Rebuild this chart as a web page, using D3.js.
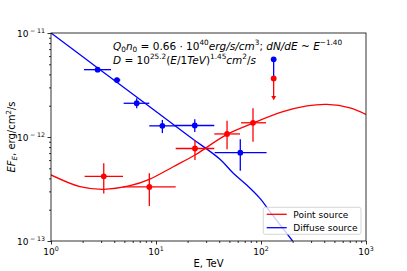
<!DOCTYPE html>
<html>
<head>
<meta charset="utf-8">
<script src="https://cdn.jsdelivr.net/npm/d3@7"></script>
<style>
    html, body { margin: 0; padding: 0; background: #fff; }
    svg { display: block; font-family: "DejaVu Sans", sans-serif; }
</style>
</head>
<body>
<div id="chart-sed"></div>
<script>
// point source points (red)
var redE    = [3.18, 8.64, 23.5, 47.5, 83.9];
var redF    = [4.19e-13, 3.31e-13, 7.75e-13, 1.07e-12, 1.37e-12];
var redELo  = [2.09, 4.82, 15.4, 35.9, 64.5];
var redEHi  = [4.85, 15.4, 35.9, 63.1, 111.6];
var redFLo  = [2.87e-13, 2.17e-13, 6.01e-13, 7.62e-13, 9.0e-13];
var redFHi  = [5.58e-13, 4.48e-13, 9.35e-13, 1.43e-12, 1.89e-12];

// red upper limit (arrow down)
var limE    = [132];
var limF    = [3.66e-12];
var limTo   = [2.30e-12];

// diffuse source points (blue)
var blueE   = [2.78, 4.25, 6.55, 11.5, 23.4, 63.5, 132];
var blueF   = [4.44e-12, 3.53e-12, 2.11e-12, 1.28e-12, 1.29e-12, 7.06e-13, 5.58e-12];
var blueELo = [2.06, 3.95, 4.92, 8.63, 15.2, 36.2, 132];
var blueEHi = [3.73, 4.57, 8.63, 15.3, 35.9, 113, 132];
var blueFLo = [4.44e-12, 3.30e-12, 1.89e-12, 1.09e-12, 1.12e-12, 4.74e-13, 3.66e-12];
var blueFHi = [4.44e-12, 3.71e-12, 2.36e-12, 1.46e-12, 1.48e-12, 9.5e-13, 5.58e-12];

// model curves
var pointCurveE = [1, 1.89, 3.15, 5.65, 8.63, 14.6, 23.5, 47.4, 84.0, 162, 274, 425, 704, 1000];
var pointCurveF = [4.32e-13, 3.33e-13, 3.14e-13, 3.40e-13, 3.92e-13, 5.18e-13, 6.71e-13,
                   1.06e-12, 1.36e-12, 1.75e-12, 1.99e-12, 2.06e-12, 1.91e-12, 1.65e-12];
var diffCurveE  = [1, 2.93, 8.77, 21.1, 40.7, 54.5, 73.1, 97.7, 122, 152, 200];
var diffCurveF  = [1e-11, 4.44e-12, 1.94e-12, 1.0e-12, 6.11e-13, 4.48e-13, 3.45e-13,
                   2.57e-13, 1.91e-13, 1.43e-13, 1.0e-13];

// ticks
var xTicks    = [1, 10, 100, 1000];
var xTickExp  = ["0", "1", "2", "3"];
var yTicks    = [1e-13, 1e-12, 1e-11];
var yTickExp  = ["\u221213", "\u221212", "\u221211"];

var legendLabels = ["Point source", "Diffuse source"];

(function () {

    var W = 407, H = 271;
    var margin = { top: 33, right: 41, bottom: 30, left: 51 };
    var iW = W - margin.left - margin.right;
    var iH = H - margin.top - margin.bottom;
    var FS = 9, SUP = 6.3;     // ticks / legend
    var LFS = 10;              // axis labels
    var AFS = 10.5, ASUP = 7.3; // annotation
    var RED = "#ff0000", BLUE = "#0000ff";

    var root = d3.select("#chart-sed").append("svg")
        .attr("width", W).attr("height", H);
    root.append("rect").attr("width", W).attr("height", H).attr("fill", "#fff");

    var svg = root.append("g")
        .attr("transform", "translate(" + margin.left + "," + margin.top + ")");

    svg.append("defs").append("clipPath")
        .attr("id", "clip-sed")
        .append("rect").attr("width", iW).attr("height", iH);

    var x = d3.scaleLog().domain([1, 1000]).range([0, iW]);
    var y = d3.scaleLog().domain([1e-13, 1e-11]).range([iH, 0]);

    // minor ticks (2..9 per decade)
    var xMinor = [], yMinor = [];
    [1, 10, 100].forEach(function (b) {
        for (var k = 2; k < 10; k++) xMinor.push(b * k);
    });
    [1e-13, 1e-12].forEach(function (b) {
        for (var k = 2; k < 10; k++) yMinor.push(b * k);
    });

    var gx = svg.append("g").attr("class", "axis axis-x")
        .attr("transform", "translate(0," + iH + ")");
    gx.call(d3.axisBottom(x).tickValues(xMinor).tickSize(2).tickSizeOuter(0).tickFormat(""));
    gx.append("g").call(d3.axisBottom(x).tickValues(xTicks).tickSize(3.5).tickSizeOuter(0).tickFormat(""));

    var gy = svg.append("g").attr("class", "axis axis-y");
    gy.call(d3.axisLeft(y).tickValues(yMinor).tickSize(2).tickSizeOuter(0).tickFormat(""));
    gy.append("g").call(d3.axisLeft(y).tickValues(yTicks).tickSize(3.5).tickSizeOuter(0).tickFormat(""));

    svg.selectAll(".axis path.domain").remove();
    svg.selectAll(".axis line").attr("stroke", "#000").attr("stroke-width", 0.8);

    // power-of-ten labels, "10" plus a raised exponent
    // (mathtext puts binop space round the minus, so pad it a bit)
    function pow10(sel, exp) {
        sel.append("tspan").text("10");
        if (exp.charAt(0) === "\u2212") {
            sel.append("tspan").attr("font-size", SUP).attr("dy", -4).attr("dx", 1.5).text("\u2212");
            sel.append("tspan").attr("font-size", SUP).attr("dx", 1.8).text(exp.slice(1));
        } else {
            sel.append("tspan").attr("font-size", SUP).attr("dy", -4).text(exp);
        }
    }

    xTicks.forEach(function (v, i) {
        var t = svg.append("text")
            .attr("x", x(v)).attr("y", iH + 13.5)
            .attr("text-anchor", "middle")
            .attr("font-size", FS).attr("fill", "#000");
        pow10(t, xTickExp[i]);
    });

    yTicks.forEach(function (v, i) {
        var t = svg.append("text")
            .attr("x", -6).attr("y", y(v) + 3.5)
            .attr("text-anchor", "end")
            .attr("font-size", FS).attr("fill", "#000");
        pow10(t, yTickExp[i]);
    });

    // axis labels
    svg.append("text")
        .attr("x", iW / 2).attr("y", iH + 26)
        .attr("text-anchor", "middle")
        .attr("font-size", LFS)
        .text("E, TeV");

    var yl = svg.append("text")
        .attr("transform", "translate(" + (14.5 - margin.left) + "," + (iH / 2) + ") rotate(-90)")
        .attr("text-anchor", "middle")
        .attr("font-size", LFS);
    yl.append("tspan").attr("font-style", "italic").text("EF");
    yl.append("tspan").attr("font-style", "italic").attr("font-size", 7).attr("dy", 2).text("E");
    yl.append("tspan").attr("dy", -2).text(", erg/cm");
    yl.append("tspan").attr("font-size", 7).attr("dy", -4).text("2");
    yl.append("tspan").attr("dy", 4).text("/s");

    // annotation
    function runs(t, parts) {
        var shift = 0;
        parts.forEach(function (p) {
            var want = p.sup ? -4.5 : p.sub ? 2.2 : 0;
            var s = t.append("tspan").text(p.t).attr("dy", want - shift);
            if (p.it) s.attr("font-style", "italic");
            if (p.sup || p.sub) s.attr("font-size", ASUP);
            shift = want;
        });
    }
    var a1 = svg.append("text").attr("x", 113 - margin.left).attr("y", 49.5 - margin.top).attr("font-size", AFS);
    runs(a1, [
        { t: "Q", it: 1 }, { t: "0", sub: 1 }, { t: "n", it: 1 }, { t: "0", sub: 1 },
        { t: " = 0.66 \u00b7 10" }, { t: "40", sup: 1 }, { t: "erg/s/cm", it: 1 }, { t: "3", sup: 1 },
        { t: "; " }, { t: "dN/dE", it: 1 }, { t: " ~ " }, { t: "E", it: 1 }, { t: "\u22121.40", sup: 1 }
    ]);
    var a2 = svg.append("text").attr("x", 113 - margin.left).attr("y", 63.5 - margin.top).attr("font-size", AFS);
    runs(a2, [
        { t: "D", it: 1 }, { t: " = 10" }, { t: "25.2", sup: 1 }, { t: "(" }, { t: "E", it: 1 },
        { t: "/1" }, { t: "TeV", it: 1 }, { t: ")" }, { t: "1.45", sup: 1 }, { t: "cm", it: 1 },
        { t: "2", sup: 1 }, { t: "/" }, { t: "s", it: 1 }
    ]);

    // model curves
    var line = d3.line()
        .x(function (d) { return x(d[0]); })
        .y(function (d) { return y(d[1]); })
        .curve(d3.curveCatmullRom.alpha(0.5));

    var plot = svg.append("g").attr("clip-path", "url(#clip-sed)");

    plot.append("path")
        .datum(d3.zip(pointCurveE, pointCurveF))
        .attr("fill", "none").attr("stroke", RED).attr("stroke-width", 1.3)
        .attr("d", line);
    plot.append("path")
        .datum(d3.zip(diffCurveE, diffCurveF))
        .attr("fill", "none").attr("stroke", BLUE).attr("stroke-width", 1.3)
        .attr("d", line);

    // error bars + markers
    function drawPoints(E, F, eLo, eHi, fLo, fHi, color) {
        var g = plot.append("g");
        E.forEach(function (e, i) {
            g.append("line")
                .attr("x1", x(eLo[i])).attr("x2", x(eHi[i]))
                .attr("y1", y(F[i])).attr("y2", y(F[i]))
                .attr("stroke", color).attr("stroke-width", 1.3);
            g.append("line")
                .attr("x1", x(e)).attr("x2", x(e))
                .attr("y1", y(fLo[i])).attr("y2", y(fHi[i]))
                .attr("stroke", color).attr("stroke-width", 1.3);
            g.append("circle")
                .attr("cx", x(e)).attr("cy", y(F[i])).attr("r", 2.9)
                .attr("fill", color);
        });
    }
    drawPoints(blueE, blueF, blueELo, blueEHi, blueFLo, blueFHi, BLUE);
    drawPoints(redE, redF, redELo, redEHi, redFLo, redFHi, RED);

    // upper limit
    limE.forEach(function (e, i) {
        var cx = x(e), y0 = y(limF[i]), y1 = y(limTo[i]);
        plot.append("line")
            .attr("x1", cx).attr("x2", cx).attr("y1", y0).attr("y2", y1)
            .attr("stroke", RED).attr("stroke-width", 1.3);
        plot.append("path")
            .attr("d", "M" + (cx - 2.5) + "," + (y1 - 3.5) + "L" + (cx + 2.5) + "," + (y1 - 3.5) + "L" + cx + "," + (y1 + 0.5) + "Z")
            .attr("fill", RED);
        plot.append("circle").attr("cx", cx).attr("cy", y0).attr("r", 2.9).attr("fill", RED);
    });

    // frame
    svg.append("rect")
        .attr("width", iW).attr("height", iH)
        .attr("fill", "none").attr("stroke", "#000").attr("stroke-width", 0.8);

    // legend
    var lg = svg.append("g").attr("transform", "translate(" + (iW - 102.7) + "," + (iH - 33.7) + ")");
    lg.append("rect")
        .attr("width", 97.7).attr("height", 27).attr("rx", 2)
        .attr("fill", "#fff").attr("fill-opacity", 0.8)
        .attr("stroke", "#ccc").attr("stroke-width", 0.8);
    [RED, BLUE].forEach(function (c, i) {
        var yy = 7 + i * 13.4;
        lg.append("line")
            .attr("x1", 3.4).attr("x2", 23.4).attr("y1", yy).attr("y2", yy)
            .attr("stroke", c).attr("stroke-width", 1.3);
        lg.append("text")
            .attr("x", 30).attr("y", yy + 3.3)
            .attr("font-size", FS)
            .text(legendLabels[i]);
    });

}());
</script>
</body>
</html>
